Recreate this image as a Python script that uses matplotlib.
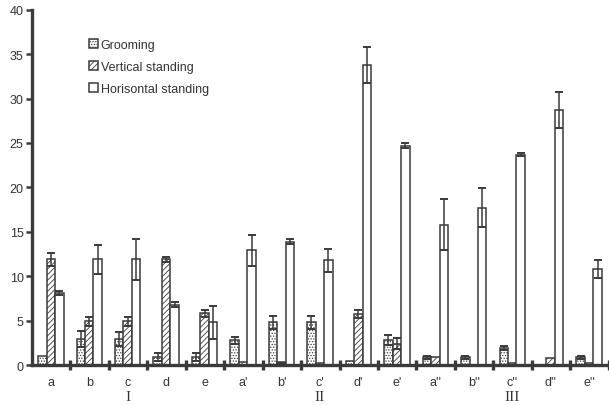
import numpy as np
import matplotlib.pyplot as plt

# Mean counts per group, with standard errors
groups = ["a", "b", "c", "d", "e",
          "a'", "b'", "c'", "d'", "e'",
          "a''", "b''", "c''", "d''", "e''"]
series_names = ["Grooming", "Vertical standing", "Horisontal standing"]
groom = [1.0, 2.9, 2.9, 0.9, 0.9, 2.8, 4.8, 4.8, 0.4, 2.8, 0.85, 0.85, 1.9, 0.0, 0.85]
groom_err = [0, 0.9, 0.8, 0.4, 0.4, 0.4, 0.7, 0.7, 0, 0.6, 0.15, 0.15, 0.2, 0, 0.15]
vert = [11.9, 4.9, 4.9, 11.9, 5.8, 0.3, 0.3, 0.2, 5.75, 2.4, 0.85, 0.0, 0.25, 0.8, 0.25]
vert_err = [0.75, 0.5, 0.5, 0.3, 0.4, 0, 0, 0, 0.45, 0.6, 0, 0, 0, 0, 0]
horiz = [8.1, 11.9, 11.9, 6.8, 4.8, 12.9, 13.9, 11.8, 33.8, 24.7, 15.8, 17.7, 23.7, 28.7, 10.8]
horiz_err = [0.2, 1.6, 2.3, 0.3, 1.9, 1.7, 0.3, 1.3, 2.0, 0.25, 2.9, 2.2, 0.2, 2.0, 1.0]
sessions = ["I", "II", "III"]
session_pos = [2, 7, 12]

INK = "#3a3a3a"
plt.rcParams["font.family"] = ["Liberation Sans", "DejaVu Sans"]
plt.rcParams["hatch.linewidth"] = 0.6
plt.rcParams["hatch.color"] = "#555555"

fig = plt.figure(figsize=(6.09, 4.06), dpi=100)
ax = fig.add_axes([0.0525, 0.0985, 0.947, 0.875])

x = np.arange(len(groups)) + 0.49
w = 0.22
vert_face = ["white"] * len(groups)
vert_face[6] = INK

specs = [
    (groom, groom_err, -w, "......", "white"),
    (vert, vert_err, 0.0, "//////", vert_face),
    (horiz, horiz_err, w, None, "white"),
]
for (vals, errs, off, hatch, face), name in zip(specs, series_names):
    vals = np.array(vals)
    errs = np.array(errs)
    ax.bar(x + off, vals, width=w, color=face, edgecolor=INK, linewidth=1.1,
           hatch=hatch, label=name, zorder=2)
    m = errs > 0
    ax.errorbar(x[m] + off, vals[m], yerr=errs[m], fmt="none", ecolor=INK,
                elinewidth=1.1, capsize=3.2, capthick=1.4, zorder=3)

ax.set_xlim(0, 15)
ax.set_ylim(0, 40)
ax.set_yticks(range(0, 41, 5))
ax.set_xticks(np.arange(1, 16), minor=False)
ax.set_xticklabels([])
ax.set_xticks(x, minor=True)
ax.set_xticklabels(groups, minor=True)

for s in ["top", "right"]:
    ax.spines[s].set_visible(False)
for s in ["left", "bottom"]:
    ax.spines[s].set_linewidth(2.4)
    ax.spines[s].set_color(INK)

ax.tick_params(axis="y", direction="out", length=4, width=1.8, color=INK,
               labelsize=9, labelcolor="#333333", pad=2)
ax.tick_params(axis="x", which="major", direction="inout", length=7, width=2.4,
               color=INK)
ax.tick_params(axis="x", which="minor", length=0, labelsize=9,
               labelcolor="#333333", pad=8)

for lab, g in zip(sessions, session_pos):
    ax.text(x[g], -3.55, lab, ha="center", va="center", fontsize=11,
            family="Liberation Serif", color="#333333", clip_on=False)

leg = ax.legend(loc="upper left", bbox_to_anchor=(0.09, 0.932), frameon=False,
                fontsize=9, handlelength=0.7, handleheight=0.7,
                handletextpad=0.25, labelspacing=0.8, borderaxespad=0)
for t in leg.get_texts():
    t.set_color("#333333")

fig.savefig("out.png", dpi=100, facecolor="white")
